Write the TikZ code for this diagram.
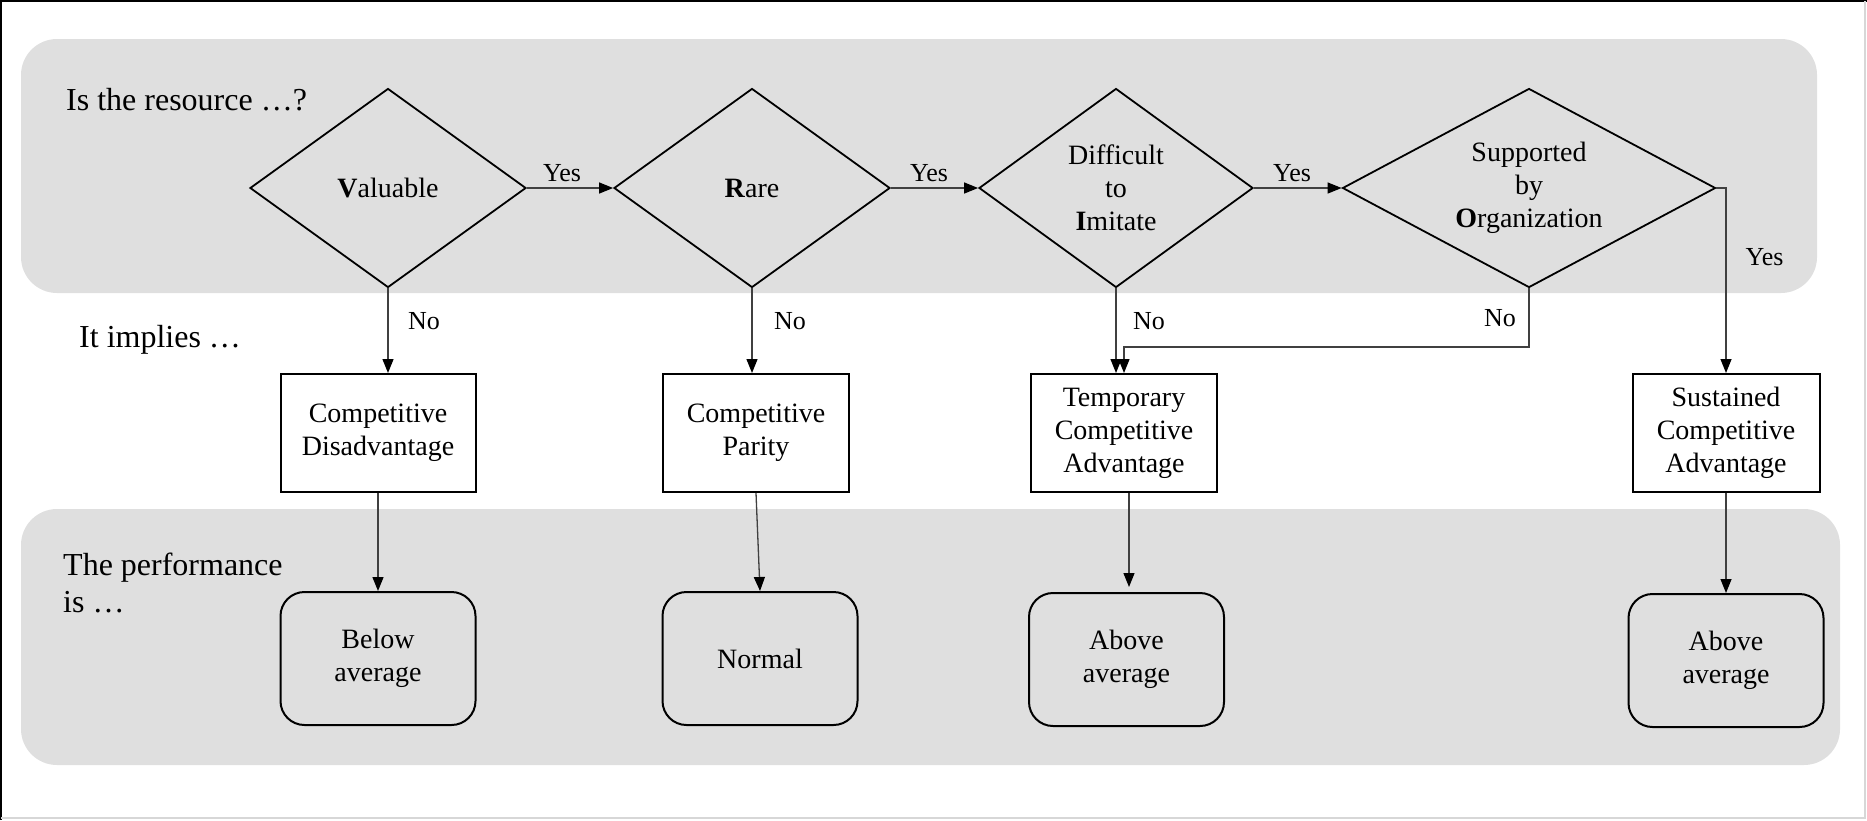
\documentclass[tikz,border=0pt]{standalone}
\usepackage{fontspec}
\setmainfont{Liberation Serif}
\usetikzlibrary{shapes.geometric,arrows.meta,calc}
\definecolor{bandgray}{RGB}{223,223,223}
\definecolor{linegray}{RGB}{64,64,64}
\definecolor{framegray}{RGB}{215,215,215}
\begin{document}
\begin{tikzpicture}[x=1pt,y=-1pt,
  every node/.style={inner sep=0pt},
  nodetxt/.style={font=\fontsize{28}{33}\selectfont, align=center},
  decision/.style={nodetxt, shape=diamond, draw=black, line width=1.8pt, minimum width=#1, minimum height=199pt, aspect=1.6},
  decision/.default=276pt,
  outcome/.style={nodetxt, rectangle, draw=black, line width=2pt, fill=white, minimum height=118pt},
  perf/.style={nodetxt, rectangle, rounded corners=24pt, draw=black, line width=2pt, minimum height=133pt, minimum width=195pt},
  conn/.style={draw=linegray, line width=1.3pt, -{Triangle[length=14pt,width=11pt,color=black]}},
  lbl/.style={font=\fontsize{26}{30}\selectfont},
  head/.style={font=\fontsize{32}{37}\selectfont, align=left}
]
\useasboundingbox (0,0) rectangle (1867,820);
% bands
\fill[bandgray, rounded corners=36pt] (21,39) rectangle (1817,293);
\fill[bandgray, rounded corners=36pt] (21,509) rectangle (1840,765);
% frame
\draw[line width=2pt] (1,820) -- (1,1) -- (1867,1);
\draw[framegray, line width=2pt] (1865,1) -- (1865,818) -- (1,818);

% headings
\node[head, anchor=base west] (h1) at (66,110) {Is the resource …?};
\node[head, anchor=base west] (h2) at (79,347) {It implies …};
\node[head, anchor=north west] (h3) at (63,553) {The performance\\is …};

% decisions
\node[decision] (V) at (388,188) {\textbf{V}aluable};
\node[decision] (R) at (752,188) {\textbf{R}are};
\node[decision=274pt] (D) at (1116,188) {Difficult\\to\\\textbf{I}mitate};
\node[decision=373pt] (S) at (1529,188) {Supported\\by\\\textbf{O}rganization};

% outcomes
\node[outcome, minimum width=195pt] (CD) at (378,433) {Competitive\\Disadvantage};
\node[outcome, minimum width=186pt] (CP) at (756,433) {Competitive\\Parity};
\node[outcome, minimum width=186pt] (TCA) at (1124,433) {Temporary\\Competitive\\Advantage};
\node[outcome, minimum width=187pt] (SCA) at (1726,433) {Sustained\\Competitive\\Advantage};

% performance
\node[perf] (P1) at (378,658.5) {Below\\average};
\node[perf] (P2) at (760,658.5) {Normal};
\node[perf] (P3) at (1126.5,659.5) {Above\\average};
\node[perf] (P4) at (1726,660.5) {Above\\average};

% yes connectors
\draw[conn] (V.east) -- (R.west);
\draw[conn] (R.east) -- (D.west);
\draw[conn] (D.east) -- (S.west);
\draw[conn] (S.east) -| (SCA.north);
\node[lbl, anchor=base west] (yes1) at ($(V.east)+(16,-7)$) {Yes};
\node[lbl, anchor=base west] (yes2) at ($(R.east)+(19,-7)$) {Yes};
\node[lbl, anchor=base west] (yes3) at ($(D.east)+(19,-7)$) {Yes};
\node[lbl, anchor=base west] (yes4) at ($(S.east)+(29,77)$) {Yes};

% no connectors
\draw[conn] (V.south) -- (V.south |- CD.north);
\draw[conn] (R.south) -- (R.south |- CP.north);
\draw[conn] (D.south) -- (D.south |- TCA.north);
\draw[conn] (S.south) |- ($(TCA.north)+(0,-26)$) -- (TCA.north);
\node[lbl, anchor=base west] (no1) at ($(V.south)+(20,41)$) {No};
\node[lbl, anchor=base west] (no2) at ($(R.south)+(22,41)$) {No};
\node[lbl, anchor=base west] (no3) at ($(D.south)+(17,41)$) {No};
\node[lbl, anchor=base east] (no4) at ($(S.south)+(-13,38)$) {No};

% performance connectors
\draw[conn] (CD.south) -- (P1.north);
\draw[conn] (CP.south) -- (P2.north);
\draw[conn] ($(TCA.south)+(5,0)$) -- ($(P3.north)+(2.5,-5)$);
\draw[conn] (SCA.south) -- (P4.north);
\end{tikzpicture}
\end{document}
